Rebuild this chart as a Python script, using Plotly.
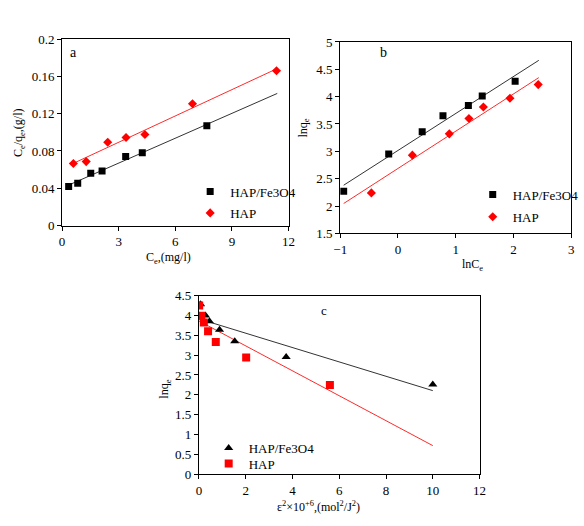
import numpy as np
import plotly.graph_objects as go

# ---------------- data ----------------
# panel a : Langmuir  (Ce vs Ce/qe)
a_fe_x = [0.35, 0.83, 1.52, 2.12, 3.37, 4.25, 7.67]
a_fe_y = [0.042, 0.0455, 0.056, 0.0586, 0.074, 0.078, 0.107]
a_hap_x = [0.60, 1.28, 2.42, 3.39, 4.39, 6.91, 11.36]
a_hap_y = [0.0666, 0.0686, 0.0893, 0.0945, 0.0976, 0.1307, 0.166]
a_fe_fit_range = [0.35, 11.4]
a_hap_fit_range = [0.60, 11.4]

# panel b : Freundlich (lnCe vs lnqe)
b_fe_x = [-0.94, -0.16, 0.42, 0.78, 1.22, 1.46, 2.03]
b_fe_y = [2.27, 2.95, 3.36, 3.65, 3.84, 4.01, 4.28]
b_hap_x = [-0.46, 0.25, 0.89, 1.23, 1.48, 1.94, 2.43]
b_hap_y = [2.24, 2.93, 3.32, 3.60, 3.81, 3.97, 4.22]
b_fit_range = [-0.94, 2.44]

# panel c : D-R (eps^2 vs lnqe)
c_fe_x = [0.07, 0.28, 0.45, 0.88, 1.53, 3.73, 10.0]
c_fe_y = [4.28, 4.00, 3.85, 3.64, 3.35, 2.95, 2.26]
c_hap_x = [0.01, 0.10, 0.21, 0.39, 0.72, 2.02, 5.60]
c_hap_y = [4.25, 3.99, 3.82, 3.60, 3.33, 2.94, 2.25]
c_fit_range = [0.0, 10.0]

names = ["HAP/Fe3O4", "HAP"]

FONT = "Liberation Serif, Times New Roman, serif"
W, H = 584, 526


def fit_line(x, y, rng):
    k, b = np.polyfit(x, y, 1)
    xs = np.array(rng)
    return xs, k * xs + b


fig = go.Figure()

# ---- panel a ----
for xs, ys, rng, col in [(a_fe_x, a_fe_y, a_fe_fit_range, "#333333"),
                         (a_hap_x, a_hap_y, a_hap_fit_range, "#ff2a2a")]:
    lx, ly = fit_line(xs, ys, rng)
    fig.add_trace(go.Scatter(x=lx, y=ly, mode="lines", line=dict(color=col, width=1),
                             showlegend=False, xaxis="x", yaxis="y", hoverinfo="skip"))
fig.add_trace(go.Scatter(x=a_fe_x, y=a_fe_y, mode="markers", name=names[0],
                         marker=dict(symbol="square", size=7, color="black"),
                         xaxis="x", yaxis="y", legend="legend"))
fig.add_trace(go.Scatter(x=a_hap_x, y=a_hap_y, mode="markers", name=names[1],
                         marker=dict(symbol="diamond", size=7, color="red"),
                         xaxis="x", yaxis="y", legend="legend2"))

# ---- panel b ----
for xs, ys, col in [(b_fe_x, b_fe_y, "#333333"), (b_hap_x, b_hap_y, "#ff2a2a")]:
    lx, ly = fit_line(xs, ys, b_fit_range)
    fig.add_trace(go.Scatter(x=lx, y=ly, mode="lines", line=dict(color=col, width=1),
                             showlegend=False, xaxis="x2", yaxis="y2", hoverinfo="skip"))
fig.add_trace(go.Scatter(x=b_fe_x, y=b_fe_y, mode="markers", name=names[0],
                         marker=dict(symbol="square", size=7, color="black"),
                         xaxis="x2", yaxis="y2", legend="legend3"))
fig.add_trace(go.Scatter(x=b_hap_x, y=b_hap_y, mode="markers", name=names[1],
                         marker=dict(symbol="diamond", size=7, color="red"),
                         xaxis="x2", yaxis="y2", legend="legend4"))

# ---- panel c ----
for xs, ys, col in [(c_fe_x, c_fe_y, "#333333"), (c_hap_x, c_hap_y, "#ff2a2a")]:
    lx, ly = fit_line(xs, ys, c_fit_range)
    fig.add_trace(go.Scatter(x=lx, y=ly, mode="lines", line=dict(color=col, width=1),
                             showlegend=False, xaxis="x3", yaxis="y3", hoverinfo="skip"))
fig.add_trace(go.Scatter(x=c_fe_x, y=c_fe_y, mode="markers", name=names[0],
                         marker=dict(symbol="triangle-up", size=8, color="black"),
                         xaxis="x3", yaxis="y3", legend="legend5"))
fig.add_trace(go.Scatter(x=c_hap_x, y=c_hap_y, mode="markers", name=names[1],
                         marker=dict(symbol="square", size=8, color="red"),
                         xaxis="x3", yaxis="y3", legend="legend6"))

axis_common = dict(showgrid=False, zeroline=False, showline=True, linecolor="black",
                   linewidth=1, mirror=True, ticks="outside", ticklen=4,
                   tickcolor="black", tickfont=dict(family=FONT, size=13, color="black"))

ax = 56.5 / W, 289 / W
ay = 1 - 225 / H, 1 - 33 / H
bx = 342 / W, 579 / W
by = 1 - 233 / H, 1 - 36 / H
cx = 197 / W, 485 / W
cy = 1 - 481 / H, 1 - 297 / H


def legend_at(px, py):
    return dict(x=px / W, y=1 - py / H, xanchor="left", yanchor="middle",
                bgcolor="rgba(0,0,0,0)", borderwidth=0,
                font=dict(family=FONT, size=13, color="black"),
                itemwidth=30, tracegroupgap=0)


fig.update_layout(
    width=W, height=H, margin=dict(l=0, r=0, t=0, b=0),
    paper_bgcolor="white", plot_bgcolor="white",
    font=dict(family=FONT, size=13, color="black"),
    xaxis=dict(domain=list(ax), range=[0, 12], tickvals=[0, 3, 6, 9, 12], anchor="y", **axis_common),
    yaxis=dict(domain=list(ay), range=[0, 0.2], tickvals=[0, 0.04, 0.08, 0.12, 0.16, 0.2],
               ticktext=["0", "0.04", "0.08", "0.12", "0.16", "0.2"], anchor="x", **axis_common),
    xaxis2=dict(domain=list(bx), range=[-1, 3], tickvals=[-1, 0, 1, 2, 3], anchor="y2", **axis_common),
    yaxis2=dict(domain=list(by), range=[1.5, 5], tickvals=[1.5, 2, 2.5, 3, 3.5, 4, 4.5, 5],
                ticktext=["1.5", "2", "2.5", "3", "3.5", "4", "4.5", "5"], anchor="x2", **axis_common),
    xaxis3=dict(domain=list(cx), range=[0, 12], tickvals=[0, 2, 4, 6, 8, 10, 12], anchor="y3", **axis_common),
    yaxis3=dict(domain=list(cy), range=[0, 4.5], tickvals=[0, 0.5, 1, 1.5, 2, 2.5, 3, 3.5, 4, 4.5],
                ticktext=["0", "0.5", "1", "1.5", "2", "2.5", "3", "3.5", "4", "4.5"], anchor="x3", **axis_common),
    legend=legend_at(188, 190),
    legend2=legend_at(188, 212),
    legend3=legend_at(478, 193),
    legend4=legend_at(478, 216),
    legend5=legend_at(207, 454),
    legend6=legend_at(207, 470),
    showlegend=True,
)

ann = [
    # panel labels
    dict(text="a", x=68, y=47, size=14),
    dict(text="b", x=386, y=47, size=14),
    dict(text="c", x=325, y=312, size=13),
    # axis titles
    dict(text="C<sub>e</sub>,(mg/l)", x=166, y=258, size=12),
    dict(text="lnC<sub>e</sub>", x=478, y=266, size=12),
    dict(text="ε<sup>2</sup>×10<sup>+6</sup>,(mol<sup>2</sup>/J<sup>2</sup>)", x=320, y=514, size=12),
]
for a in ann:
    fig.add_annotation(text=a["text"], x=a["x"] / W, y=1 - a["y"] / H, xref="paper", yref="paper",
                       showarrow=False, xanchor="center", yanchor="middle",
                       font=dict(family=FONT, size=a["size"], color="black"))

rot = [
    dict(text="C<sub>e</sub>/q<sub>e</sub>,(g/l)", x=13, y=130),
    dict(text="lnq<sub>e</sub>", x=305, y=125),
    dict(text="lnq<sub>e</sub>", x=162, y=393),
]
for a in rot:
    fig.add_annotation(text=a["text"], x=a["x"] / W, y=1 - a["y"] / H, xref="paper", yref="paper",
                       showarrow=False, xanchor="center", yanchor="middle", textangle=-90,
                       font=dict(family=FONT, size=12, color="black"))

fig.write_html("out.html")
